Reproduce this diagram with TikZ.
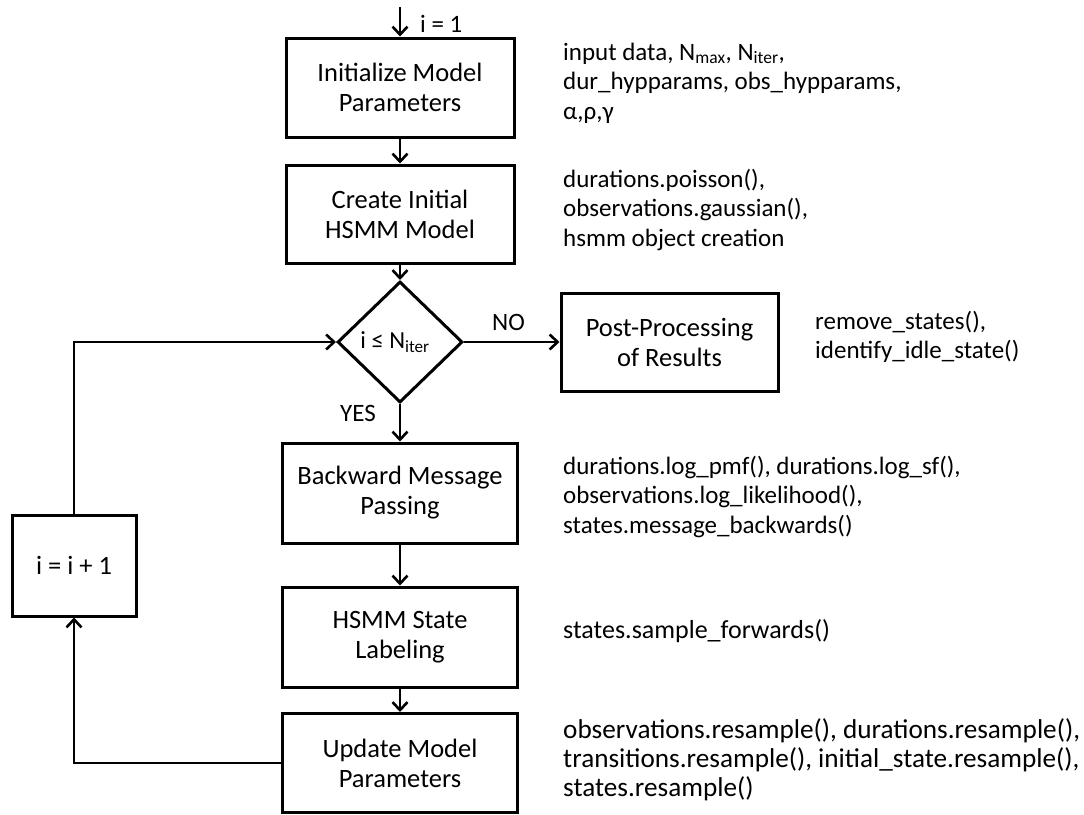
\documentclass[tikz,border=0pt]{standalone}
\usepackage{fontspec}
\setmainfont{Carlito}
\usetikzlibrary{shapes.geometric,arrows.meta}
\newcommand{\annot}[1]{\begin{tabular}[t]{@{}l@{}}#1\end{tabular}}
\tikzset{
  box/.style={draw, line width=3pt, rectangle, align=center, inner sep=0pt,
    font=\fontsize{26.5}{30}\selectfont},
  dia/.style={draw, line width=3pt, diamond, inner sep=0pt,
    minimum width=125pt, minimum height=121pt, font=\fontsize{24.5}{30}\selectfont},
  arr/.style={line width=2.6pt, -{Straight Barb[length=8pt,width=15pt]}},
  ann/.style={anchor=base west, inner sep=0pt, font=\fontsize{25}{29.5}\selectfont},
  annbig/.style={ann, font=\fontsize{27.2}{29}\selectfont},
  lbl/.style={inner sep=0pt, font=\fontsize{25}{29.5}\selectfont}
}
\begin{document}
\begin{tikzpicture}[x=1pt,y=-1pt]
\useasboundingbox (0,0) rectangle (1084,814);

% main boxes
\node[box, minimum width=228pt, minimum height=99pt] (init) at (400,87.5) {Initialize Model\\Parameters};
\node[box, minimum width=228pt, minimum height=98pt] (create) at (400,214) {Create Initial\\HSMM Model};
\node[dia] (dec) at (400,342) {i ≤ N\textsubscript{iter}\kern10pt};
\node[box, minimum width=217pt, minimum height=98pt] (post) at (669.5,342) {Post-Processing\\of Results};
\node[box, minimum width=235pt, minimum height=100pt] (back) at (400,493) {Backward Message\\Passing};
\node[box, minimum width=235pt, minimum height=100pt] (lab) at (400,637) {HSMM State\\Labeling};
\node[box, minimum width=235pt, minimum height=99pt] (upd) at (400,763) {Update Model\\Parameters};
\node[box, minimum width=124pt, minimum height=101pt] (incr) at (74,565.5) {i = i + 1};

% entry arrow
\coordinate (start) at (400,7);
\draw[arr] (start) -- (init.north);
\node[ann] (i1) at (420,32) {i = 1};

% main flow
\draw[arr] (init.south) -- (create.north);
\draw[arr] (create.south) -- (dec.north);
\draw[arr] (dec.south) -- (back.north);
\draw[arr] (back.south) -- (lab.north);
\draw[arr] (lab.south) -- (upd.north);
\draw[arr] (dec.east) -- (post.west);
\node[lbl] (no) at (508.5,322.5) {NO};
\node[lbl] (yes) at (358,413) {YES};

% loop back
\draw[arr] (upd.west) -| (incr.south);
\draw[arr] (incr.north) |- (dec.west);

% annotations
\node[ann] (a1) at (563,60) {\annot{input data, N\textsubscript{max}, N\textsubscript{iter},\\dur\_hypparams, obs\_hypparams,\\α,ρ,γ}};
\node[ann] (a2) at (563,187) {\annot{durations.poisson(),\\observations.gaussian(),\\hsmm object creation}};
\node[ann] (a3) at (815,329) {\annot{remove\_states(),\\identify\_idle\_state()}};
\node[ann] (a4) at (563,474) {\annot{durations.log\_pmf(), durations.log\_sf(),\\observations.log\_likelihood(),\\states.message\_backwards()}};
\node[ann, font=\fontsize{26}{29.5}\selectfont] (a5) at (563,638) {states.sample\_forwards()};
\node[annbig] (a6) at (563,738) {\annot{observations.resample(), durations.resample(),\\transitions.resample(), initial\_state.resample(),\\states.resample()}};
\end{tikzpicture}
\end{document}
